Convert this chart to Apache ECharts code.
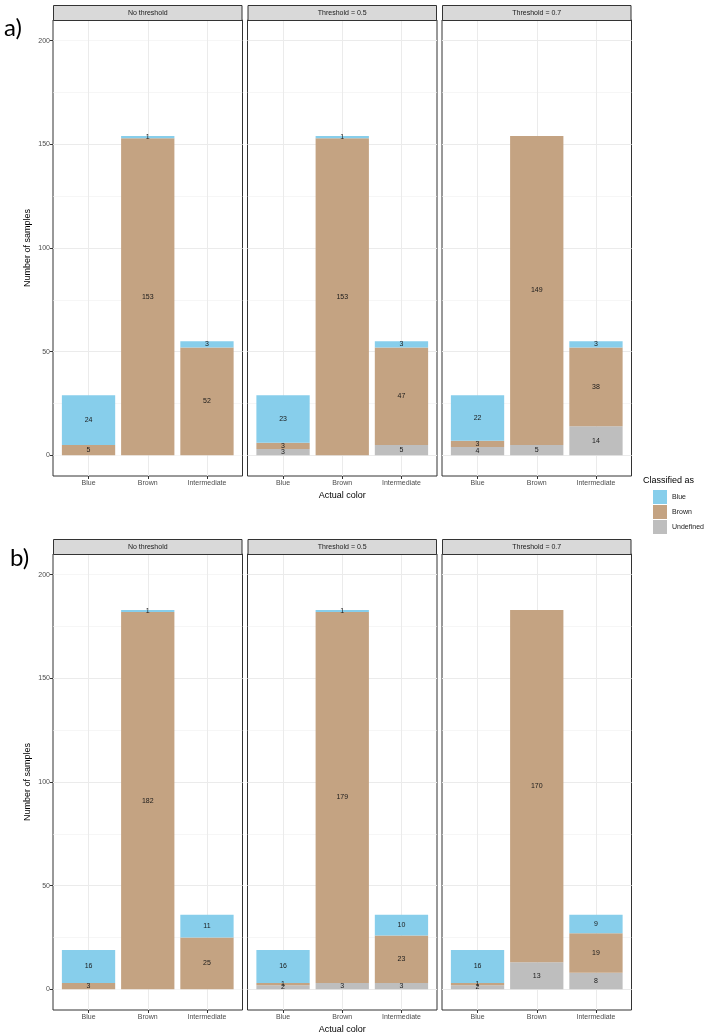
<!DOCTYPE html>
<html>
<head>
<meta charset="utf-8">
<script src="https://cdn.jsdelivr.net/npm/echarts@6/dist/echarts.min.js"></script>
<style>html,body{margin:0;padding:0;background:#fff;}#c{width:712px;height:1036px;}</style>
</head>
<body>
<div id="c"></div>
<script>
// ---- data ----
const categories = ['Blue', 'Brown', 'Intermediate'];
const facetNames = ['No threshold', 'Threshold = 0.5', 'Threshold = 0.7'];
const classNames = ['Blue', 'Brown', 'Undefined'];
const yTicks = [0, 50, 100, 150, 200];
const panelTags = ['a)', 'b)'];
// panel a) : [facet][category]
const aBlue  = [[24, 1, 3], [23, 1, 3], [22, 0, 3]];
const aBrown = [[5, 153, 52], [3, 153, 47], [3, 149, 38]];
const aUndef = [[0, 0, 0], [3, 0, 5], [4, 5, 14]];
// panel b)
const bBlue  = [[16, 1, 11], [16, 1, 10], [16, 0, 9]];
const bBrown = [[3, 182, 25], [1, 179, 23], [1, 170, 19]];
const bUndef = [[0, 0, 0], [2, 3, 3], [2, 13, 8]];

const panels = [
  {Blue: aBlue, Brown: aBrown, Undefined: aUndef},
  {Blue: bBlue, Brown: bBrown, Undefined: bUndef}
];
const colors = {Blue: '#87CEEB', Brown: '#C4A382', Undefined: '#BEBEBE'};

// ---- layout ----
const FONT = 'Liberation Sans, Arial, sans-serif';
const L = [53, 247.5, 442];
const W = 189.5;
const T = [20, 554];
const H = 456;
const yMin = -10, yMax = 210;
const u = W / 3.2;

const grid = [], xAxis = [], yAxis = [], series = [], graphic = [];

for (let p = 0; p < 2; p++) {
  for (let f = 0; f < 3; f++) {
    const k = p * 3 + f;
    const gF = 2 * k, gB = 2 * k + 1;
    grid.push({left: L[f], top: T[p], width: W, height: H, show: true,
      borderColor: '#333333', borderWidth: 1, backgroundColor: '#ffffff', containLabel: false});
    grid.push({left: L[f] + 0.1 * u, top: T[p], width: 3 * u, height: H, show: false, containLabel: false});
    // frame x (vertical gridlines)
    xAxis.push({type: 'value', gridIndex: gF, position: 'bottom', min: 0.4, max: 3.6, minInterval: 1, maxInterval: 1,
      axisLine: {show: false, onZero: false}, axisTick: {show: false}, axisLabel: {show: false},
      splitLine: {show: true, showMinLine: false, showMaxLine: false, lineStyle: {color: '#ebebeb', width: 1}}});
    // bar category x
    xAxis.push({type: 'category', gridIndex: gB, position: 'bottom', data: categories, boundaryGap: true,
      axisLine: {show: false, onZero: false},
      axisTick: {show: true, alignWithLabel: true, length: 3, lineStyle: {color: '#333333', width: 1}},
      axisLabel: {show: true, color: '#4d4d4d', fontSize: 7, fontFamily: FONT, margin: 4, interval: 0},
      splitLine: {show: false},
      name: f === 1 ? 'Actual color' : '', nameLocation: 'middle', nameGap: 15,
      nameTextStyle: {color: '#000', fontSize: 9, fontFamily: FONT}});
    // minor horizontal lines
    yAxis.push({type: 'value', gridIndex: gF, position: 'left', offset: 0, min: yMin, max: yMax, minInterval: 25, maxInterval: 25,
      axisLine: {show: false, onZero: false}, axisTick: {show: false}, axisLabel: {show: false},
      splitLine: {show: true, showMinLine: false, showMaxLine: false, lineStyle: {color: '#f0f0f0', width: 0.6}}});
    // major horizontal lines + labels
    const major = {type: 'value', gridIndex: gF, position: 'left', offset: 0, min: yMin, max: yMax, minInterval: 50, maxInterval: 50,
      axisLine: {show: false, onZero: false},
      axisTick: {show: false}, axisLabel: {show: false},
      splitLine: {show: true, showMinLine: false, showMaxLine: false, lineStyle: {color: '#ebebeb', width: 1}}};
    if (f === 0) {
      major.axisTick = {show: true, length: 3, customValues: yTicks, lineStyle: {color: '#333333', width: 1}};
      major.axisLabel = {show: true, customValues: yTicks, color: '#4d4d4d', fontSize: 7, fontFamily: FONT, margin: 3};
      major.name = 'Number of samples';
      major.nameLocation = 'middle';
      major.nameGap = 21;
      major.nameRotate = 90;
      major.nameTextStyle = {color: '#000', fontSize: 9, fontFamily: FONT};
    }
    yAxis.push(major);
    // bar y
    yAxis.push({type: 'value', gridIndex: gB, position: 'left', min: yMin, max: yMax, show: false,
      axisTick: {show: false}, axisLabel: {show: false}, axisLine: {show: false, onZero: false}, splitLine: {show: false}});
    const yBar = 3 * k + 2;
    ['Undefined', 'Brown', 'Blue'].forEach(cls => {
      series.push({
        type: 'bar', name: cls, stack: 's' + k, xAxisIndex: gB, yAxisIndex: yBar,
        barWidth: '90%', itemStyle: {color: colors[cls]},
        data: panels[p][cls][f],
        label: {show: true, position: 'inside', color: '#1a1a1a', fontSize: 7, fontFamily: FONT,
          formatter: q => (q.value ? String(q.value) : '')},
        emphasis: {disabled: true}, animation: false
      });
    });
    // strip
    graphic.push({type: 'rect', shape: {x: L[f] + 0.5, y: T[p] - 15 + 0.5, width: W - 1, height: 15},
      style: {fill: '#d9d9d9', stroke: '#333333', lineWidth: 1}, z: 10});
    graphic.push({type: 'text', x: L[f] + W / 2, y: T[p] - 7,
      style: {text: facetNames[f], fontSize: 7, fontFamily: FONT, fill: '#1a1a1a', align: 'center', verticalAlign: 'middle'}, z: 11});
  }
}
graphic.push({type: 'text', x: 4, y: 28, style: {text: panelTags[0], fontSize: 24, fontFamily: 'Lato, sans-serif', fill: '#000', align: 'left', verticalAlign: 'middle'}});
graphic.push({type: 'text', x: 10, y: 558, style: {text: panelTags[1], fontSize: 24, fontFamily: 'Lato, sans-serif', fill: '#000', align: 'left', verticalAlign: 'middle'}});
graphic.push({type: 'text', x: 643, y: 481, style: {text: 'Classified as', fontSize: 9, fontFamily: FONT, fill: '#000', align: 'left', verticalAlign: 'middle'}});

const chart = echarts.init(document.getElementById('c'), null, {renderer: 'canvas'});
chart.setOption({
  animation: false,
  backgroundColor: '#ffffff',
  grid, xAxis, yAxis, series, graphic,
  legend: {data: classNames, orient: 'vertical', left: 653, top: 490, itemWidth: 14, itemHeight: 14,
    itemGap: 1, icon: 'rect', padding: 0, selectedMode: false,
    textStyle: {fontSize: 7, color: '#1a1a1a', fontFamily: FONT, padding: [0, 0, 0, 0]}}
});
</script>
</body>
</html>
